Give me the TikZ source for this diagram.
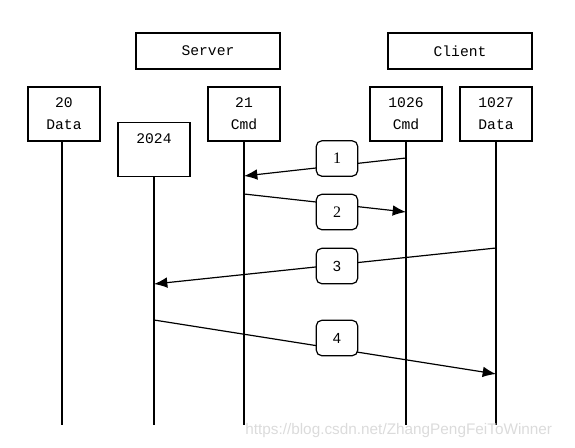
\documentclass[tikz,border=0pt]{standalone}
\usepackage{fontspec}
\setmainfont{Liberation Sans}
\newfontfamily\monofam{Liberation Mono}
\newfontfamily\seriffam{Liberation Serif}
\usetikzlibrary{arrows.meta}
\begin{document}
\begin{tikzpicture}[x=0.75pt,y=-0.75pt,
  grp/.style={draw,line width=0.9pt,minimum width=108pt,minimum height=27pt,inner sep=0pt,font=\monofam\fontsize{11}{13}\selectfont},
  port/.style={draw,line width=0.9pt,minimum width=54pt,minimum height=40.5pt,inner sep=0pt,align=center,font=\monofam\fontsize{11}{16.5}\selectfont},
  life/.style={line width=0.9pt},
  msg/.style={line width=0.9pt,-{Latex[length=10pt,width=8pt]}},
  tag/.style={draw,fill=white,line width=0.9pt,rounded corners=4pt,minimum width=31pt,minimum height=26.5pt,inner sep=0pt,font=\fontsize{11}{13}\selectfont}
]
\useasboundingbox (0,0) rectangle (575,447);
% groups
\node[grp] (server) at (208,51) {Server};
\node[grp] (client) at (460,51) {Client};
% ports
\node[port] (p20) at (64,114) {20\\Data};
\node[port] (p2024) at (154,149.5) {};
\node[font=\monofam\fontsize{11}{13}\selectfont] (t2024) at (154,139) {2024};
\node[port] (p21) at (244,114) {21\\Cmd};
\node[port] (p1026) at (406,114) {1026\\Cmd};
\node[port] (p1027) at (496,114) {1027\\Data};
% lifeline ends
\coordinate (e20) at (62,425);
\coordinate (e2024) at (154,425);
\coordinate (e21) at (244,425);
\coordinate (e1026) at (406,425);
\coordinate (e1027) at (496,425);
\draw[life] (p20.south -| e20) -- (e20);
\draw[life] (p2024.south) -- (e2024);
\draw[life] (p21.south) -- (e21);
\draw[life] (p1026.south) -- (e1026);
\draw[life] (p1027.south) -- (e1027);
% message points
\coordinate (a1) at (406,158);
\coordinate (b1) at (244,176);
\coordinate (a2) at (244,194);
\coordinate (b2) at (406,212);
\coordinate (a3) at (496,248);
\coordinate (b3) at (154,284);
\coordinate (a4) at (154,320);
\coordinate (b4) at (496,374);
\draw[msg] (a1) -- (b1);
\draw[msg] (a2) -- (b2);
\draw[msg] (a3) -- (b3);
\draw[msg] (a4) -- (b4);
% tags
\node[tag,font=\seriffam\fontsize{12}{14}\selectfont] (m1) at (337,158.5) {1};
\node[tag,font=\seriffam\fontsize{12}{14}\selectfont] (m2) at (337,212) {2};
\node[tag] (m3) at (337,266) {3};
\node[tag] (m4) at (337,338) {4};
% watermark
\node[anchor=west,text=black!14,font=\fontsize{11.5}{14}\selectfont,inner sep=0pt] (wm) at (245,431) {https://blog.csdn.net/ZhangPengFeiToWinner};
\end{tikzpicture}
\end{document}
